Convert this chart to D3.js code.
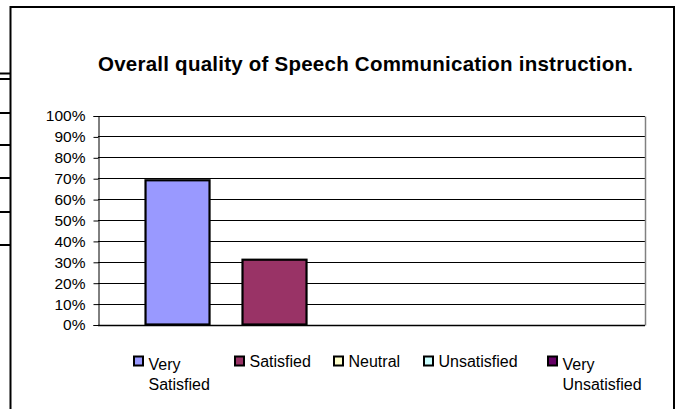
<!DOCTYPE html>
<html>
<head>
<meta charset="utf-8">
<script src="https://cdn.jsdelivr.net/npm/d3@7"></script>
<style>
  html, body { margin: 0; padding: 0; background: #fff; }
  svg { display: block; font-family: "Liberation Sans", Arial, sans-serif; }
</style>
</head>
<body>
<svg id="chart" width="677" height="409"></svg>
<script>
// ---- data ----
const series = ["Very Satisfied", "Satisfied", "Neutral", "Unsatisfied", "Very Unsatisfied"];
const values = [0.69, 0.31, 0, 0, 0];
const colors = ["#9999FF", "#993366", "#FFFFCC", "#CCFFFF", "#660066"];
const yTicks = [0, 0.1, 0.2, 0.3, 0.4, 0.5, 0.6, 0.7, 0.8, 0.9, 1.0];
const legendLines = [["Very", "Satisfied"], ["Satisfied"], ["Neutral"], ["Unsatisfied"], ["Very", "Unsatisfied"]];
const title = "Overall quality of Speech Communication instruction.";

(function () {
const svg = d3.select("#chart");

// page frame & document artifacts
const frame = svg.append("g").attr("stroke", "#000").attr("stroke-width", 2).attr("fill", "none");
frame.append("path").attr("d", "M10.5,409 V7 H674 V409");
[73.5, 79].forEach(yy => frame.append("line").attr("x1", 0).attr("x2", 10).attr("y1", yy).attr("y2", yy));
[113, 145, 178, 212, 245].forEach(yy => frame.append("line").attr("x1", 0).attr("x2", 10).attr("y1", yy).attr("y2", yy));

// title
svg.append("text")
  .attr("x", 365.5).attr("y", 71)
  .attr("text-anchor", "middle")
  .attr("font-weight", "bold")
  .attr("font-size", 20.5)
  .attr("textLength", 535)
  .attr("fill", "#000")
  .text(title);

// scales
const pL = 98, pR = 645, pT = 115.5, pB = 324.5;
const x = d3.scaleBand().domain(series).range([pL, pR]).paddingInner(0.34).paddingOuter(0.49);
const y = d3.scaleLinear().domain([0, 1]).range([pB, pT]);

// gridlines
svg.append("g")
  .selectAll("line").data(yTicks).join("line")
  .attr("x1", pL).attr("x2", pR)
  .attr("y1", d => Math.round(y(d)) + 0.5).attr("y2", d => Math.round(y(d)) + 0.5)
  .attr("stroke", "#000").attr("stroke-width", 1);

// plot right border
svg.append("line")
  .attr("x1", pR + 0.5).attr("x2", pR + 0.5)
  .attr("y1", Math.round(y(1)) + 0.5).attr("y2", Math.round(y(0)) + 0.5)
  .attr("stroke", "#808080").attr("stroke-width", 1.5);

// y axis
const yAxis = d3.axisLeft(y).tickValues(yTicks).tickFormat(d3.format(".0%")).tickSize(5).tickPadding(8);
const ya = svg.append("g").attr("transform", `translate(${pL + 0.5},0.5)`).call(yAxis);
ya.select(".domain").attr("stroke", "#000").attr("stroke-width", 1);
ya.selectAll(".tick line").attr("stroke", "#000");
ya.selectAll(".tick text")
  .attr("font-size", 15.5).attr("fill", "#000")
  .attr("font-family", "'Liberation Sans', Arial, sans-serif");

// bottom axis line
svg.append("line")
  .attr("x1", pL).attr("x2", pR)
  .attr("y1", Math.round(y(0)) + 0.5).attr("y2", Math.round(y(0)) + 0.5)
  .attr("stroke", "#000").attr("stroke-width", 1.5);

// bars
const data = series.map((s, i) => ({ s, v: values[i], c: colors[i] }));
svg.append("g")
  .selectAll("rect").data(data.filter(d => d.v > 0)).join("rect")
  .attr("x", d => x(d.s))
  .attr("y", d => y(d.v))
  .attr("width", x.bandwidth())
  .attr("height", d => y(0) - y(d.v))
  .attr("fill", d => d.c)
  .attr("stroke", "#000")
  .attr("stroke-width", 2.2);

// legend
const legX = [134, 235, 334, 424, 548];
const lg = svg.append("g");
data.forEach((d, i) => {
  const g = lg.append("g");
  g.append("rect")
    .attr("x", legX[i]).attr("y", 356.5)
    .attr("width", 9).attr("height", 9)
    .attr("fill", d.c).attr("stroke", "#000").attr("stroke-width", 2);
  const lines = legendLines[i];
  const baseY = lines.length > 1 ? 370 : 366.5;
  const t = g.append("text")
    .attr("font-size", 16).attr("fill", "#000");
  lines.forEach((ln, k) => {
    t.append("tspan")
      .attr("x", legX[i] + 14.5)
      .attr("y", baseY + k * 20)
      .text(ln);
  });
});
})();
</script>
</body>
</html>
